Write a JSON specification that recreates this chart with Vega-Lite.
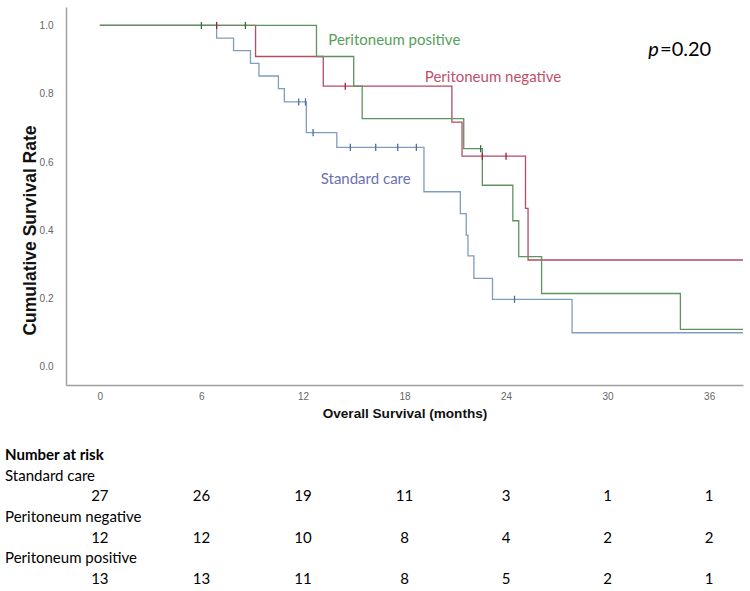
{
  "$schema": "https://vega.github.io/schema/vega-lite/v6.json",
  "padding": {"left": 5, "top": 7, "right": 0, "bottom": 0},
  "background": "white",
  "config": {"view": {"stroke": null}, "font": "Liberation Sans"},
  "datasets": {
    "km": [
      {"group": "Standard care", "month": 0, "survival": 1},
      {"group": "Standard care", "month": 6.9, "survival": 0.963},
      {"group": "Standard care", "month": 7.9, "survival": 0.926},
      {"group": "Standard care", "month": 8.9, "survival": 0.889},
      {"group": "Standard care", "month": 9.4, "survival": 0.852},
      {"group": "Standard care", "month": 10.55, "survival": 0.815},
      {"group": "Standard care", "month": 10.9, "survival": 0.776},
      {"group": "Standard care", "month": 12.2, "survival": 0.686},
      {"group": "Standard care", "month": 14.0, "survival": 0.643},
      {"group": "Standard care", "month": 19.15, "survival": 0.513},
      {"group": "Standard care", "month": 21.3, "survival": 0.449},
      {"group": "Standard care", "month": 21.65, "survival": 0.386},
      {"group": "Standard care", "month": 21.75, "survival": 0.325},
      {"group": "Standard care", "month": 22.1, "survival": 0.259},
      {"group": "Standard care", "month": 23.2, "survival": 0.198},
      {"group": "Standard care", "month": 27.9, "survival": 0.1},
      {"group": "Standard care", "month": 38, "survival": 0.1},
      {"group": "Peritoneum negative", "month": 0, "survival": 1},
      {"group": "Peritoneum negative", "month": 9.2, "survival": 0.909},
      {"group": "Peritoneum negative", "month": 13.2, "survival": 0.822},
      {"group": "Peritoneum negative", "month": 20.8, "survival": 0.717},
      {"group": "Peritoneum negative", "month": 21.4, "survival": 0.617},
      {"group": "Peritoneum negative", "month": 25.15, "survival": 0.464},
      {"group": "Peritoneum negative", "month": 25.3, "survival": 0.313},
      {"group": "Peritoneum negative", "month": 38, "survival": 0.313},
      {"group": "Peritoneum positive", "month": 0, "survival": 1},
      {"group": "Peritoneum positive", "month": 12.8, "survival": 0.909},
      {"group": "Peritoneum positive", "month": 15.0, "survival": 0.822},
      {"group": "Peritoneum positive", "month": 15.5, "survival": 0.727},
      {"group": "Peritoneum positive", "month": 21.5, "survival": 0.639},
      {"group": "Peritoneum positive", "month": 22.6, "survival": 0.532},
      {"group": "Peritoneum positive", "month": 24.4, "survival": 0.428},
      {"group": "Peritoneum positive", "month": 24.75, "survival": 0.323},
      {"group": "Peritoneum positive", "month": 26.1, "survival": 0.215},
      {"group": "Peritoneum positive", "month": 34.3, "survival": 0.11},
      {"group": "Peritoneum positive", "month": 38, "survival": 0.11}
    ],
    "censor": [
      {"group": "Standard care", "month": 11.75, "survival": 0.776},
      {"group": "Standard care", "month": 12.15, "survival": 0.776},
      {"group": "Standard care", "month": 12.6, "survival": 0.686},
      {"group": "Standard care", "month": 14.8, "survival": 0.643},
      {"group": "Standard care", "month": 16.3, "survival": 0.643},
      {"group": "Standard care", "month": 17.6, "survival": 0.643},
      {"group": "Standard care", "month": 18.7, "survival": 0.643},
      {"group": "Standard care", "month": 24.5, "survival": 0.198},
      {"group": "Peritoneum negative", "month": 6.9, "survival": 1},
      {"group": "Peritoneum negative", "month": 14.5, "survival": 0.822},
      {"group": "Peritoneum negative", "month": 22.6, "survival": 0.617},
      {"group": "Peritoneum negative", "month": 24.0, "survival": 0.617},
      {"group": "Peritoneum positive", "month": 6.0, "survival": 1},
      {"group": "Peritoneum positive", "month": 8.6, "survival": 1},
      {"group": "Peritoneum positive", "month": 22.5, "survival": 0.639}
    ],
    "names": [
      {"line": "Standard care", "label": "Standard care"},
      {"line": "Peritoneum negative", "label": "Peritoneum negative"},
      {"line": "Peritoneum positive", "label": "Peritoneum positive"}
    ],
    "risk": [
      {"line": "Standard care at risk", "month": 0, "n": 27},
      {"line": "Standard care at risk", "month": 6, "n": 26},
      {"line": "Standard care at risk", "month": 12, "n": 19},
      {"line": "Standard care at risk", "month": 18, "n": 11},
      {"line": "Standard care at risk", "month": 24, "n": 3},
      {"line": "Standard care at risk", "month": 30, "n": 1},
      {"line": "Standard care at risk", "month": 36, "n": 1},
      {"line": "Peritoneum negative at risk", "month": 0, "n": 12},
      {"line": "Peritoneum negative at risk", "month": 6, "n": 12},
      {"line": "Peritoneum negative at risk", "month": 12, "n": 10},
      {"line": "Peritoneum negative at risk", "month": 18, "n": 8},
      {"line": "Peritoneum negative at risk", "month": 24, "n": 4},
      {"line": "Peritoneum negative at risk", "month": 30, "n": 2},
      {"line": "Peritoneum negative at risk", "month": 36, "n": 2},
      {"line": "Peritoneum positive at risk", "month": 0, "n": 13},
      {"line": "Peritoneum positive at risk", "month": 6, "n": 13},
      {"line": "Peritoneum positive at risk", "month": 12, "n": 11},
      {"line": "Peritoneum positive at risk", "month": 18, "n": 8},
      {"line": "Peritoneum positive at risk", "month": 24, "n": 5},
      {"line": "Peritoneum positive at risk", "month": 30, "n": 2},
      {"line": "Peritoneum positive at risk", "month": 36, "n": 1}
    ]
  },
  "spacing": 25,
  "vconcat": [
    {
      "width": 677,
      "height": 378,
      "layer": [
        {
          "data": {"name": "km"},
          "mark": {"type": "line", "interpolate": "step-after", "strokeWidth": 1.3},
          "encoding": {
            "x": {
              "field": "month", "type": "quantitative",
              "scale": {"domain": [-2, 38], "nice": false, "zero": false},
              "title": "Overall Survival (months)",
              "axis": {
                "values": [0, 6, 12, 18, 24, 30, 36], "grid": false, "ticks": false,
                "labelFontSize": 10, "labelColor": "#666666", "labelPadding": 6,
                "domainColor": "#a0a0a0", "domainWidth": 1.5,
                "titleFontSize": 13.6, "titleFontWeight": "bold", "titleColor": "#111111", "titlePadding": 5
              }
            },
            "y": {
              "field": "survival", "type": "quantitative",
              "scale": {"domain": [-0.053, 1.054], "nice": false, "zero": false},
              "title": "Cumulative Survival Rate",
              "axis": {
                "values": [0, 0.2, 0.4, 0.6, 0.8, 1.0], "format": ".1f", "grid": false, "ticks": false,
                "labelFontSize": 10, "labelColor": "#666666", "labelPadding": 13,
                "domainColor": "#a0a0a0", "domainWidth": 1.5,
                "titleFontSize": 17.5, "titleFontWeight": "bold", "titleColor": "#111111",
                "titleX": -36, "titleY": 223, "titleAlign": "center", "titleBaseline": "middle"
              }
            },
            "color": {
              "field": "group", "type": "nominal", "legend": null,
              "scale": {"domain": ["Standard care", "Peritoneum negative", "Peritoneum positive"], "range": ["#7d9dc3", "#b34a66", "#5e9460"]}
            }
          }
        },
        {
          "data": {"name": "censor"},
          "mark": {"type": "point", "shape": "M0,-1L0,1", "size": 50, "strokeWidth": 1.3, "filled": false, "opacity": 1},
          "encoding": {
            "x": {"field": "month", "type": "quantitative"},
            "y": {"field": "survival", "type": "quantitative"},
            "color": {
              "field": "group", "type": "nominal", "legend": null,
              "scale": {"domain": ["Standard care", "Peritoneum negative", "Peritoneum positive"], "range": ["#4f6f9f", "#9e1f40", "#3b6b3d"]}
            }
          }
        },
        {
          "data": {"values": [{"label": "Peritoneum positive"}]},
          "mark": {"type": "text", "align": "left", "baseline": "middle", "font": "Lato", "fontSize": 15, "color": "#55a05a"},
          "encoding": {"x": {"datum": 13.5}, "y": {"datum": 0.958}, "text": {"field": "label"}}
        },
        {
          "data": {"values": [{"label": "Peritoneum negative"}]},
          "mark": {"type": "text", "align": "left", "baseline": "middle", "font": "Lato", "fontSize": 15, "color": "#c0506a"},
          "encoding": {"x": {"datum": 19.2}, "y": {"datum": 0.848}, "text": {"field": "label"}}
        },
        {
          "data": {"values": [{"label": "Standard care"}]},
          "mark": {"type": "text", "align": "left", "baseline": "middle", "font": "Lato", "fontSize": 15, "color": "#6a70b4"},
          "encoding": {"x": {"datum": 13.05}, "y": {"datum": 0.55}, "text": {"field": "label"}}
        },
        {
          "data": {"values": [{"label": "p"}]},
          "mark": {"type": "text", "align": "left", "baseline": "middle", "font": "Lato", "fontSize": 20, "fontStyle": "italic", "color": "#000000"},
          "encoding": {"x": {"datum": 32.4}, "y": {"datum": 0.927}, "text": {"field": "label"}}
        },
        {
          "data": {"values": [{"label": "=0.20"}]},
          "mark": {"type": "text", "align": "left", "baseline": "middle", "font": "Lato", "fontSize": 20, "color": "#000000"},
          "encoding": {"x": {"datum": 33.1}, "y": {"datum": 0.927}, "text": {"field": "label"}}
        }
      ],
      "resolve": {"scale": {"color": "independent"}}
    },
    {
      "width": 677,
      "height": 144,
      "layer": [
        {
          "data": {"values": [{"label": "Number at risk", "line": "Number at risk"}]},
          "mark": {"type": "text", "align": "left", "baseline": "middle", "font": "Lato", "fontSize": 15, "fontWeight": "bold", "color": "#000000"},
          "encoding": {
            "x": {"datum": -5.6, "type": "quantitative", "scale": {"domain": [-2, 38], "nice": false, "zero": false}, "axis": null},
            "y": {"field": "line", "type": "nominal", "axis": null,
              "scale": {"type": "point", "padding": 0.5, "domain": ["Number at risk", "Standard care", "Standard care at risk", "Peritoneum negative", "Peritoneum negative at risk", "Peritoneum positive", "Peritoneum positive at risk"]}},
            "text": {"field": "label"}
          }
        },
        {
          "data": {"name": "names"},
          "mark": {"type": "text", "align": "left", "baseline": "middle", "font": "Lato", "fontSize": 15, "color": "#000000"},
          "encoding": {
            "x": {"datum": -5.6, "type": "quantitative"},
            "y": {"field": "line", "type": "nominal"},
            "text": {"field": "label"}
          }
        },
        {
          "data": {"name": "risk"},
          "mark": {"type": "text", "align": "center", "baseline": "middle", "font": "Lato", "fontSize": 15, "color": "#000000"},
          "encoding": {
            "x": {"field": "month", "type": "quantitative"},
            "y": {"field": "line", "type": "nominal"},
            "text": {"field": "n", "type": "quantitative"}
          }
        }
      ]
    }
  ]
}
